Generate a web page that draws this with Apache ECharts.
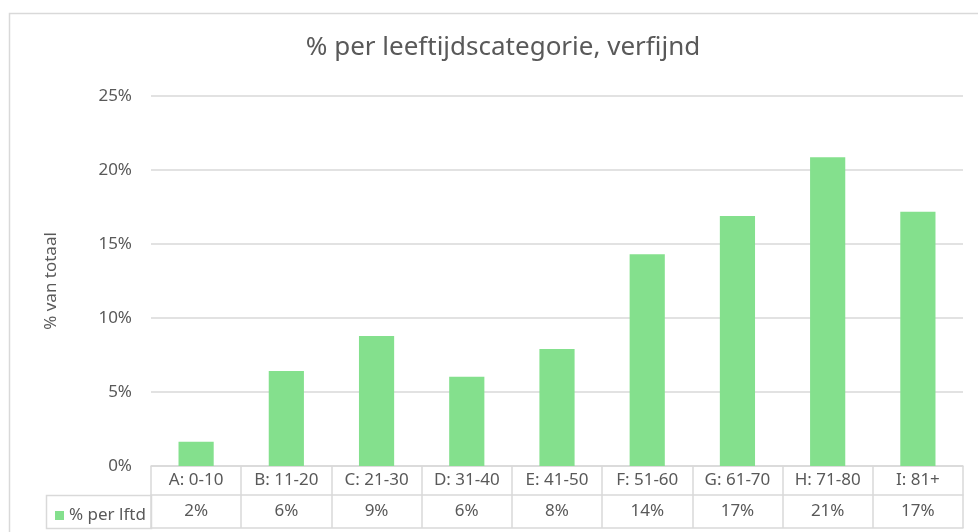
<!DOCTYPE html>
<html>
<head>
<meta charset="utf-8">
<script src="https://cdn.jsdelivr.net/npm/echarts@6/dist/echarts.min.js"></script>
<style>
  html, body { margin: 0; padding: 0; background: #ffffff; }
  #chart { width: 978px; height: 532px; }
</style>
</head>
<body>
<div id="chart"></div>
<script>
const categories = ['A: 0-10', 'B: 11-20', 'C: 21-30', 'D: 31-40', 'E: 41-50', 'F: 51-60', 'G: 61-70', 'H: 71-80', 'I: 81+'];
const values = [1.64, 6.42, 8.78, 6.03, 7.9, 14.3, 16.9, 20.86, 17.18];
const tableLabels = ['2%', '6%', '9%', '6%', '8%', '14%', '17%', '21%', '17%'];
const yTicks = [0, 5, 10, 15, 20, 25];
const seriesName = '% per lftd';

const textColor = '#595959';
const lineColor = '#d9d9d9';
const font = 'Noto Sans';

const chart = echarts.init(document.getElementById('chart'));
chart.setOption({
  backgroundColor: '#ffffff',
  animation: false,
  textStyle: { fontFamily: font },
  title: {
    text: '% per leeftijdscategorie, verfijnd',
    left: 498,
    textAlign: 'center',
    top: 30,
    textStyle: { fontFamily: font, fontSize: 26, fontWeight: 'normal', color: textColor }
  },
  legend: {
    data: [seriesName],
    left: 50,
    top: 502,
    icon: 'rect',
    itemWidth: 9,
    itemHeight: 9,
    textStyle: { fontFamily: font, fontSize: 17, color: textColor }
  },
  graphic: [
    {
      type: 'rect',
      shape: { x: 9.5, y: 13.5, width: 1000, height: 1000 },
      style: { fill: 'none', stroke: lineColor, lineWidth: 1.5 },
      silent: true
    },
    {
      type: 'rect',
      shape: { x: 46.5, y: 495.5, width: 105, height: 33 },
      style: { fill: 'none', stroke: lineColor, lineWidth: 1.5 },
      silent: true
    }
  ],
  grid: { left: 151, right: 15, top: 96, bottom: 66 },
  xAxis: [
    {
      type: 'category',
      data: categories,
      position: 'bottom',
      axisLine: { show: true, lineStyle: { color: lineColor, width: 1.5 } },
      axisTick: { show: true, length: 62, interval: 0, lineStyle: { color: lineColor, width: 1.5 } },
      axisLabel: { interval: 0, margin: 6, fontSize: 17, color: textColor, fontFamily: font }
    },
    {
      type: 'category',
      data: tableLabels,
      position: 'bottom',
      offset: 29,
      axisLine: { show: true, lineStyle: { color: lineColor, width: 1.5 } },
      axisTick: { show: false },
      axisLabel: { interval: 0, margin: 8, fontSize: 17, color: textColor, fontFamily: font }
    },
    {
      type: 'category',
      data: categories,
      position: 'bottom',
      offset: 62,
      axisLine: { show: true, lineStyle: { color: lineColor, width: 1.5 } },
      axisTick: { show: false },
      axisLabel: { show: false }
    }
  ],
  yAxis: {
    type: 'value',
    min: yTicks[0],
    max: yTicks[yTicks.length - 1],
    interval: 5,
    name: '% van totaal',
    nameLocation: 'middle',
    nameGap: 91,
    nameTextStyle: { fontSize: 17, color: textColor, fontFamily: font },
    axisLine: { show: false },
    axisTick: { show: false },
    axisLabel: { formatter: '{value}%', margin: 19, fontSize: 17, color: textColor, fontFamily: font },
    splitLine: { lineStyle: { color: lineColor, width: 1.5 } }
  },
  series: [
    {
      name: seriesName,
      type: 'bar',
      xAxisIndex: 0,
      data: values,
      barCategoryGap: '61%',
      itemStyle: { color: '#84e08d' }
    }
  ]
});
</script>
</body>
</html>
